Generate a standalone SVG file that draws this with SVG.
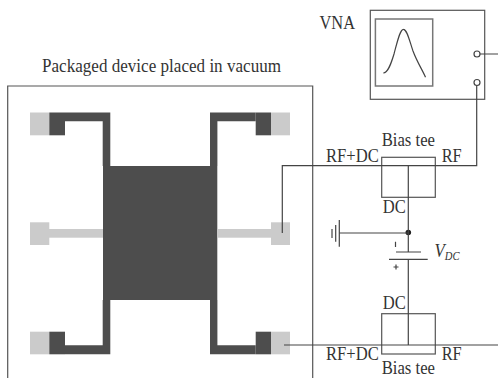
<svg xmlns="http://www.w3.org/2000/svg" width="498" height="378" viewBox="0 0 498 378">
<style>
text{font-family:"Liberation Serif","Times New Roman",serif;fill:#333}
.l{font-size:18.5px}
.d{fill:#4d4d4d}
.g{fill:#cbcbcb}
.w{fill:none;stroke:#555;stroke-width:1.2}
.k{fill:none;stroke:#444;stroke-width:1.2}
</style>
<rect width="498" height="378" fill="#fff"/>
<text class="l" x="42" y="71.5" textLength="239" lengthAdjust="spacingAndGlyphs">Packaged device placed in vacuum</text>
<g id="package"><path class="w" d="M7.7 378V86H312.7V378"/></g>
<g id="device">
<rect class="d" x="103" y="166" width="114.3" height="134"/>
<path class="d" d="M65 112.5H110.3V166H102.7V121.3H65Z"/>
<path class="d" d="M255.7 112.5H210V166H217.4V121.3H255.7Z"/>
<path class="d" d="M65 354.3H110.3V300H102.7V345.2H65Z"/>
<path class="d" d="M255.7 354.3H210V300H217.4V345.2H255.7Z"/>
<rect class="g" x="30" y="112.5" width="19.3" height="22.8"/><rect class="d" x="49.3" y="112.5" width="15.7" height="22.8"/>
<rect class="g" x="271" y="112.5" width="19" height="22.8"/><rect class="d" x="255.7" y="112.5" width="15.3" height="22.8"/>
<rect class="g" x="30" y="331.7" width="19.3" height="22.6"/><rect class="d" x="49.3" y="331.7" width="15.7" height="22.6"/>
<rect class="g" x="271" y="331.7" width="19" height="22.6"/><rect class="d" x="255.7" y="331.7" width="15.3" height="22.6"/>
<rect class="g" x="30" y="222.3" width="19.3" height="22.7"/><rect class="g" x="49" y="229" width="54" height="8.7"/>
<rect class="g" x="271" y="222.3" width="19" height="22.7"/><rect class="g" x="217.4" y="229" width="54" height="8.7"/>
</g>
<g id="vna">
<rect x="370.3" y="10.3" width="114.4" height="89" fill="#fff" stroke="#555" stroke-width="1.2"/>
<rect x="375.4" y="19" width="57.3" height="67" fill="#fff" stroke="#777" stroke-width="1.5"/>
<path class="k" d="M383.3 73C388 73 391 64 394 54C397 43 400 29 403.5 29.3C407 29.5 409 39 413 51C417 62 423 71 425.5 77.3"/>
<circle class="k" cx="477" cy="54" r="3"/><circle class="k" cx="477" cy="82.5" r="3"/>
<text class="l" x="319.5" y="29.3" textLength="35.5" lengthAdjust="spacingAndGlyphs">VNA</text>
</g>
<g id="bias-tee-top">
<rect class="w" x="381.7" y="157.3" width="53.6" height="40"/>
<text class="l" x="381.7" y="145.7" textLength="53.3" lengthAdjust="spacingAndGlyphs">Bias tee</text><text class="l" x="326" y="162.3" textLength="52.7" lengthAdjust="spacingAndGlyphs">RF+DC</text><text class="l" x="441.7" y="162.3" textLength="20" lengthAdjust="spacingAndGlyphs">RF</text><text class="l" x="382.7" y="212.7" textLength="23" lengthAdjust="spacingAndGlyphs">DC</text>
</g>
<g id="bias-tee-bottom">
<rect class="w" x="381.7" y="313.7" width="53.6" height="40.3"/>
<text class="l" x="382.7" y="309.3" textLength="23" lengthAdjust="spacingAndGlyphs">DC</text><text class="l" x="326" y="360" textLength="52.7" lengthAdjust="spacingAndGlyphs">RF+DC</text><text class="l" x="441.7" y="360" textLength="20" lengthAdjust="spacingAndGlyphs">RF</text><text class="l" x="381.7" y="373.9" textLength="53.3" lengthAdjust="spacingAndGlyphs">Bias tee</text>
</g>
<g id="source">
<path class="k" d="M396 252H421M389 259.3H427.7M395.5 241.7V247M393.5 267H398.5M396 264.5V269.5"/>
<circle cx="408.3" cy="232.5" r="2.8" fill="#222"/>
<path class="k" d="M339.3 220V246.7M335.7 225V241.7M332 229V238"/>
<text x="434.5" y="256.7" font-size="19" font-style="italic" textLength="25" lengthAdjust="spacingAndGlyphs">V<tspan font-size="12" dy="3.3">DC</tspan></text>
</g>
<g id="connectors">
<path class="k" d="M282.3 233V165.7H476.7V85.5M408.3 165.7V252M408.3 259.3V345M339.3 233H408.3M284 345H498M480 54H498"/>
</g>
</svg>
